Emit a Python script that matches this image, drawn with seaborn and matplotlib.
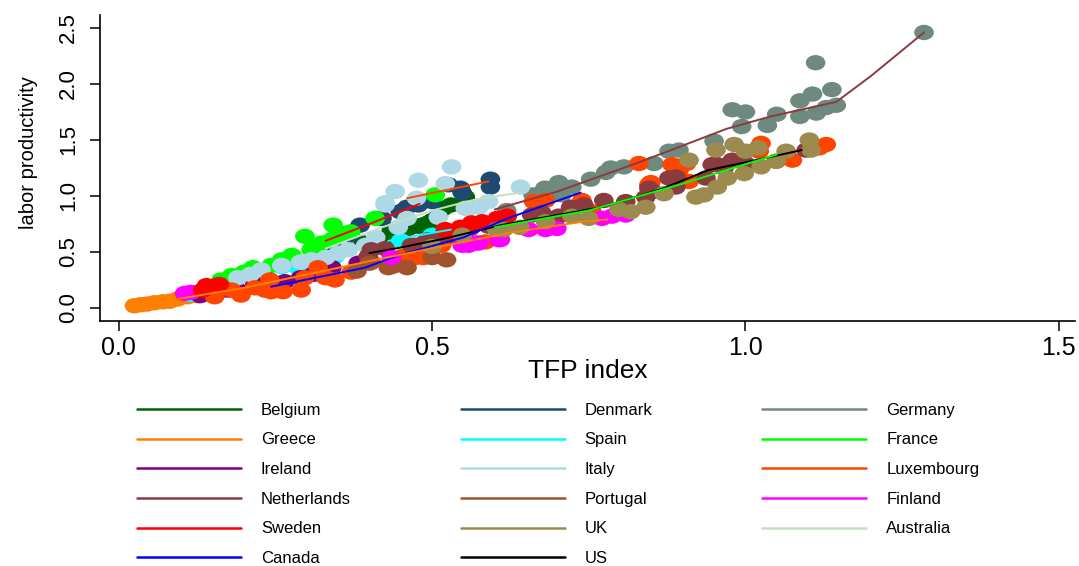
import numpy as np
import pandas as pd
import matplotlib as mpl
mpl.use("Agg")
import matplotlib.pyplot as plt
from matplotlib.path import Path
from matplotlib.lines import Line2D
import seaborn as sns

# legend order (row by row, as in the original)
countries = ["Belgium", "Denmark", "Germany", "Greece", "Spain", "France",
             "Ireland", "Italy", "Luxembourg", "Netherlands", "Portugal",
             "Finland", "Sweden", "UK", "Australia", "Canada", "US"]
colors = ["#006400", "#1c4a70", "#6e8a7e", "#ff7f00", "#00ffff", "#00ff00",
          "#800080", "#add8e6", "#ff4500", "#8b3a40", "#a0522d",
          "#ff00ff", "#ff0000", "#9c8a4e", "#c4dfc4", "#0000ff", "#000000"]

# scatter points: TFP index / labor productivity
belgium_tfp = [0.39, 0.414, 0.43, 0.435, 0.441, 0.462, 0.478, 0.484, 0.494, 0.50, 0.51, 0.518, 0.53, 0.553]
belgium_lp = [0.58, 0.61, 0.64, 0.70, 0.70, 0.71, 0.73, 0.74, 0.76, 0.78, 0.82, 0.89, 0.92, 0.99]
denmark_tfp = [0.34, 0.366, 0.369, 0.385, 0.42, 0.449, 0.46, 0.478, 0.50, 0.526, 0.545, 0.548, 0.593, 0.593]
denmark_lp = [0.58, 0.67, 0.65, 0.74, 0.80, 0.86, 0.90, 0.92, 0.95, 1.10, 1.07, 1.03, 1.15, 1.08]
germany_tfp = [0.619, 0.661, 0.680, 0.702, 0.707, 0.723, 0.753, 0.777, 0.785, 0.806, 0.854, 0.878,
               0.894, 0.950, 0.979, 0.994, 1.000, 1.035, 1.050, 1.087, 1.087, 1.107, 1.112,
               1.113, 1.129, 1.138, 1.145, 1.285]
germany_lp = [0.87, 1.01, 1.07, 1.12, 1.01, 1.08, 1.15, 1.21, 1.25, 1.26, 1.29, 1.40,
              1.41, 1.49, 1.77, 1.62, 1.75, 1.63, 1.73, 1.85, 1.71, 1.91, 2.19,
              1.74, 1.79, 1.95, 1.81, 2.46]
greece_tfp = [0.025, 0.035, 0.045, 0.057, 0.07, 0.081, 0.094, 0.11, 0.125]
greece_lp = [0.02, 0.03, 0.035, 0.047, 0.055, 0.06, 0.08, 0.10, 0.11]
spain_tfp = [0.115, 0.125, 0.26, 0.286, 0.32, 0.345, 0.40, 0.45, 0.50, 0.53]
spain_lp = [0.12, 0.12, 0.37, 0.36, 0.42, 0.46, 0.52, 0.60, 0.65, 0.68]
france_tfp = [0.163, 0.18, 0.20, 0.214, 0.243, 0.26, 0.276, 0.297, 0.307, 0.324, 0.34, 0.342,
              0.355, 0.37, 0.409, 0.505]
france_lp = [0.25, 0.29, 0.32, 0.36, 0.38, 0.43, 0.47, 0.64, 0.52, 0.58, 0.61, 0.74,
             0.65, 0.68, 0.80, 1.01]
ireland_tfp = [0.13, 0.158, 0.174, 0.19, 0.217, 0.24, 0.265, 0.29, 0.31, 0.34, 0.382]
ireland_lp = [0.11, 0.145, 0.16, 0.16, 0.22, 0.25, 0.235, 0.27, 0.30, 0.36, 0.40]
italy_tfp = [0.19, 0.21, 0.227, 0.26, 0.29, 0.307, 0.33, 0.35, 0.366, 0.394, 0.41, 0.425, 0.425,
             0.441, 0.446, 0.46, 0.475, 0.478, 0.51, 0.521, 0.531, 0.553, 0.558, 0.575, 0.59, 0.641]
italy_lp = [0.27, 0.30, 0.34, 0.38, 0.41, 0.43, 0.45, 0.49, 0.52, 0.56, 0.63, 0.94, 0.92,
            1.04, 0.72, 0.80, 0.98, 1.14, 0.81, 1.11, 1.26, 0.89, 0.89, 0.90, 0.95, 1.08]
luxembourg_tfp = [0.153, 0.18, 0.195, 0.217, 0.233, 0.241, 0.243, 0.262, 0.291, 0.297, 0.318,
                  0.33, 0.345, 0.371, 0.403, 0.436, 0.452, 0.473, 0.486, 0.515, 0.585,
                  0.662, 0.681, 0.739, 0.755, 0.83, 0.846, 0.849, 0.883, 0.894, 0.906, 0.91,
                  1.022, 1.025, 1.049, 1.075, 1.118, 1.129]
luxembourg_lp = [0.10, 0.16, 0.115, 0.18, 0.16, 0.25, 0.145, 0.145, 0.16, 0.27, 0.36,
                 0.27, 0.25, 0.32, 0.41, 0.37, 0.46, 0.45, 0.45, 0.56, 0.59,
                 0.95, 0.96, 0.96, 0.86, 1.29, 1.10, 1.12, 1.28, 1.23, 1.29, 1.13,
                 1.40, 1.47, 1.31, 1.32, 1.43, 1.46]
netherlands_tfp = [0.398, 0.403, 0.425, 0.467, 0.473, 0.489, 0.494, 0.505, 0.531, 0.534, 0.558,
                   0.561, 0.59, 0.606, 0.659, 0.675, 0.702, 0.721, 0.742, 0.774, 0.809, 0.841,
                   0.846, 0.852, 0.878, 0.889, 0.889, 0.937, 0.947, 0.955, 0.966, 0.979, 1.0, 1.097]
netherlands_lp = [0.46, 0.52, 0.53, 0.56, 0.56, 0.59, 0.61, 0.61, 0.65, 0.64, 0.71,
                  0.71, 0.73, 0.74, 0.83, 0.85, 0.82, 0.90, 0.92, 0.96, 0.95, 0.99,
                  1.07, 1.04, 1.16, 1.08, 1.17, 1.16, 1.28, 1.28, 1.25, 1.32, 1.29, 1.41]
portugal_tfp = [0.38, 0.40, 0.43, 0.44, 0.46, 0.50, 0.523]
portugal_lp = [0.33, 0.40, 0.36, 0.38, 0.36, 0.45, 0.43]
finland_tfp = [0.105, 0.115, 0.435, 0.548, 0.558, 0.569, 0.574, 0.606, 0.609, 0.654, 0.681,
               0.699, 0.771, 0.787, 0.809]
finland_lp = [0.13, 0.14, 0.45, 0.56, 0.56, 0.58, 0.58, 0.61, 0.61, 0.70, 0.70,
              0.71, 0.80, 0.82, 0.83]
sweden_tfp = [0.134, 0.14, 0.16, 0.521, 0.531, 0.545, 0.558, 0.563, 0.58, 0.604, 0.62]
sweden_lp = [0.16, 0.20, 0.21, 0.70, 0.68, 0.72, 0.73, 0.76, 0.77, 0.80, 0.82]
uk_tfp = [0.50, 0.548, 0.603, 0.614, 0.64, 0.681, 0.723, 0.75, 0.798, 0.817, 0.841, 0.87, 0.91,
          0.921, 0.934, 0.953, 0.955, 0.971, 0.982, 0.998, 1.0, 1.02, 1.025, 1.049, 1.065,
          1.102, 1.105]
uk_lp = [0.55, 0.65, 0.70, 0.70, 0.72, 0.77, 0.82, 0.80, 0.88, 0.86, 0.90, 1.02, 1.32,
         0.99, 1.01, 1.41, 1.08, 1.16, 1.46, 1.20, 1.40, 1.43, 1.26, 1.31, 1.40,
         1.50, 1.41]

# fitted curves as they show on the chart (keyed by their legend colour)
netherlands_fit_tfp = [0.60, 0.70, 0.83, 0.97, 1.04, 1.145, 1.20, 1.285]
netherlands_fit_lp = [0.88, 1.04, 1.30, 1.60, 1.71, 1.84, 2.07, 2.46]
us_fit_tfp = [0.40, 0.45, 0.52, 0.61, 0.70, 0.77, 0.83, 0.87, 0.94, 1.00, 1.09]
us_fit_lp = [0.49, 0.54, 0.62, 0.74, 0.83, 0.90, 1.00, 1.07, 1.23, 1.30, 1.41]
sweden_fit_tfp = [0.33, 0.40, 0.48]
sweden_fit_lp = [0.60, 0.75, 0.93]
luxembourg_fit_tfp = [0.46, 0.52, 0.59]
luxembourg_fit_lp = [0.98, 1.05, 1.13]
australia_fit_tfp = [0.33, 0.42, 0.50, 0.57, 0.641]
australia_fit_lp = [0.53, 0.72, 0.87, 0.97, 1.03]
canada_fit_tfp = [0.243, 0.393, 0.446, 0.55, 0.62, 0.737]
canada_fit_lp = [0.19, 0.36, 0.47, 0.63, 0.80, 1.03]
greece_fit_tfp = [0.03, 0.20, 0.41, 0.515, 0.622, 0.74, 0.78]
greece_fit_lp = [0.02, 0.18, 0.43, 0.55, 0.67, 0.77, 0.79]
france_fit_tfp = [0.60, 0.75, 0.90, 1.05]
france_fit_lp = [0.72, 0.87, 1.11, 1.37]
spain_fit_tfp = [0.43, 0.53]
spain_fit_lp = [0.60, 0.70]

points = {"Belgium": (belgium_tfp, belgium_lp), "Denmark": (denmark_tfp, denmark_lp),
          "Germany": (germany_tfp, germany_lp), "Greece": (greece_tfp, greece_lp),
          "Spain": (spain_tfp, spain_lp), "France": (france_tfp, france_lp),
          "Ireland": (ireland_tfp, ireland_lp), "Italy": (italy_tfp, italy_lp),
          "Luxembourg": (luxembourg_tfp, luxembourg_lp),
          "Netherlands": (netherlands_tfp, netherlands_lp),
          "Portugal": (portugal_tfp, portugal_lp), "Finland": (finland_tfp, finland_lp),
          "Sweden": (sweden_tfp, sweden_lp), "UK": (uk_tfp, uk_lp)}
fits = {"Netherlands": (netherlands_fit_tfp, netherlands_fit_lp),
        "US": (us_fit_tfp, us_fit_lp), "Sweden": (sweden_fit_tfp, sweden_fit_lp),
        "Luxembourg": (luxembourg_fit_tfp, luxembourg_fit_lp),
        "Australia": (australia_fit_tfp, australia_fit_lp),
        "Canada": (canada_fit_tfp, canada_fit_lp), "Greece": (greece_fit_tfp, greece_fit_lp),
        "France": (france_fit_tfp, france_fit_lp), "Spain": (spain_fit_tfp, spain_fit_lp)}

df = pd.concat([pd.DataFrame({"country": c, "tfp": x, "lp": y})
                for c, (x, y) in points.items()], ignore_index=True)
palette = dict(zip(countries, colors))

sns.set_theme(style="ticks")
plt.rcParams['font.family'] = ['Liberation Sans', 'DejaVu Sans']
plt.rcParams['text.color'] = 'black'
plt.rcParams['axes.labelcolor'] = 'black'

fig = plt.figure(figsize=(10.79, 5.66), dpi=100)
ax = fig.add_axes([0.0927, 0.4329, 0.9036, 0.5406])

circ = Path.unit_circle()
ellipse = Path(circ.vertices * [1.28, 1.0], circ.codes)

sns.scatterplot(data=df, x="tfp", y="lp", hue="country", palette=palette,
                marker=ellipse, s=200, linewidth=0, alpha=1, legend=False,
                ax=ax, zorder=2)

for c, (x, y) in fits.items():
    ax.plot(x, y, color=palette[c], lw=1.4, zorder=3)

ax.set_xlim(-0.030, 1.526)
ax.set_ylim(-0.116, 2.616)
ax.set_xticks([0, 0.5, 1.0, 1.5])
ax.set_xticklabels(["0.0", "0.5", "1.0", "1.5"])
ax.set_yticks([0, 0.5, 1.0, 1.5, 2.0, 2.5])
ax.set_yticklabels(["0.0", "0.5", "1.0", "1.5", "2.0", "2.5"], rotation=90, va="center")
ax.tick_params(axis="both", direction="out", length=7, width=1.1, colors="black")
ax.tick_params(axis="x", pad=4, labelsize=18)
ax.tick_params(axis="y", pad=8, labelsize=16)
sns.despine(ax=ax)
for s in ["left", "bottom"]:
    ax.spines[s].set_linewidth(1.2)
    ax.spines[s].set_color("black")

ax.set_xlabel("TFP index", fontsize=19, labelpad=-1)
ax.set_ylabel("labor productivity", fontsize=14.5)
ax.yaxis.set_label_coords(-0.064, 0.55)

handles = [Line2D([], [], color=col, lw=1.8) for col in colors]
order = [i for col in range(3) for i in range(col, len(countries), 3)]
fig.legend([handles[i] for i in order], [countries[i] for i in order],
           ncol=3, loc="upper left", bbox_to_anchor=(0.127, 0.2885),
           frameon=False, fontsize=12, handlelength=6.23, handletextpad=1.2,
           columnspacing=6.6, labelspacing=0.88, borderpad=0, borderaxespad=0)

fig.savefig("out.png", dpi=100)
